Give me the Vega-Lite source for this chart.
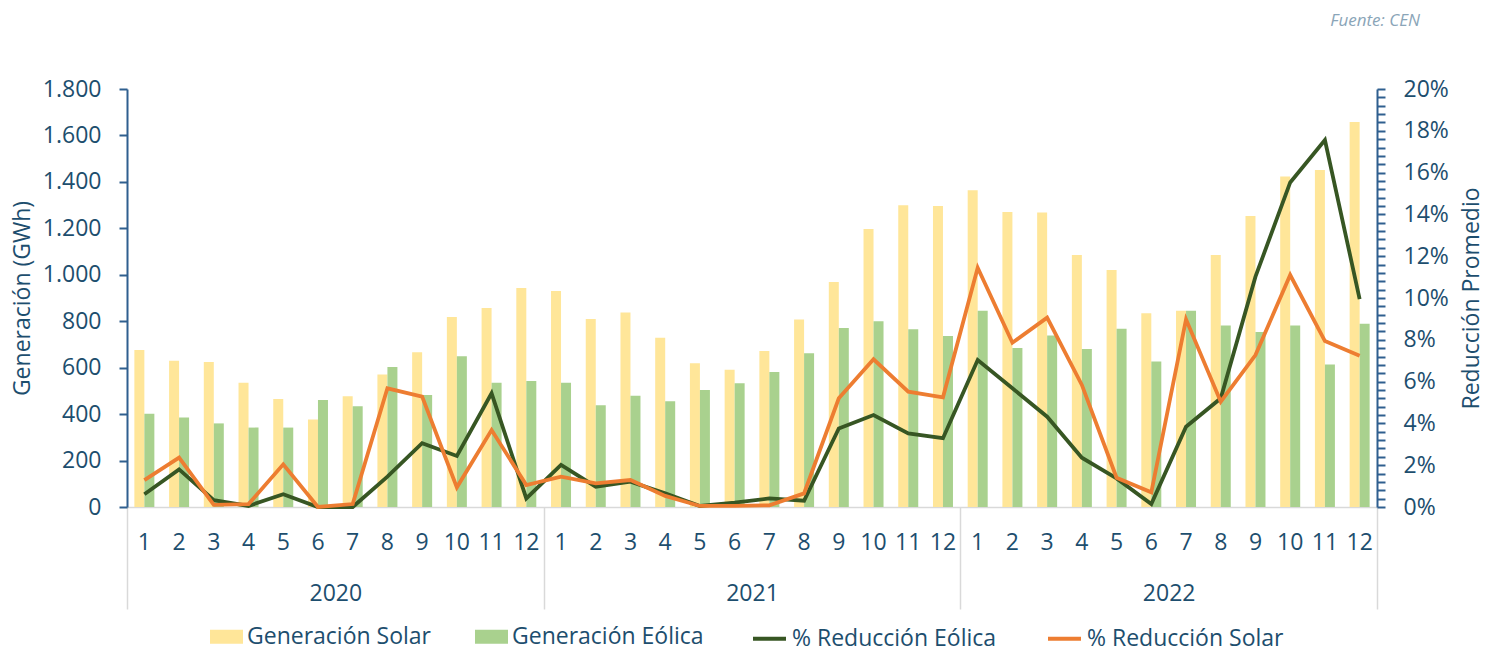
{
  "$schema": "https://vega.github.io/schema/vega-lite/v6.json",
  "width": 1250,
  "height": 418,
  "autosize": {"type": "none"},
  "padding": {"left": 127, "top": 89, "right": 109, "bottom": 144},
  "config": {
    "font": "Open Sans",
    "view": {"stroke": null},
    "locale": {"number": {"decimal": ",", "thousands": ".", "grouping": [3], "currency": ["$", ""]}},
    "axis": {"labelFont": "Open Sans", "labelFontSize": 23, "labelColor": "#1d4e6e", "titleFont": "Open Sans", "titleFontSize": 23, "titleColor": "#1d4e6e", "titleFontWeight": "normal", "grid": false},
    "legend": {"labelFont": "Open Sans", "labelFontSize": 23, "labelColor": "#1d4e6e", "labelLimit": 400, "labelOffset": 4, "columnPadding": 43, "direction": "horizontal", "orient": "none", "symbolSize": 1089}
  },
  "title": {"text": "Fuente: CEN", "anchor": "end", "frame": "group", "fontStyle": "italic", "fontWeight": "normal", "fontSize": 17, "color": "#8aa5b8", "offset": 48, "dx": 43},
  "data": {"values": [
    {"k": "2020-1", "solar": 676, "eolica": 402, "red_eol": 0.61, "red_sol": 1.29},
    {"k": "2020-2", "solar": 630, "eolica": 385, "red_eol": 1.80, "red_sol": 2.36},
    {"k": "2020-3", "solar": 624, "eolica": 360, "red_eol": 0.33, "red_sol": 0.10},
    {"k": "2020-4", "solar": 535, "eolica": 342, "red_eol": 0.05, "red_sol": 0.14},
    {"k": "2020-5", "solar": 465, "eolica": 342, "red_eol": 0.61, "red_sol": 2.04},
    {"k": "2020-6", "solar": 377, "eolica": 461, "red_eol": 0.00, "red_sol": 0.00},
    {"k": "2020-7", "solar": 477, "eolica": 434, "red_eol": 0.00, "red_sol": 0.14},
    {"k": "2020-8", "solar": 571, "eolica": 603, "red_eol": 1.45, "red_sol": 5.68},
    {"k": "2020-9", "solar": 666, "eolica": 482, "red_eol": 3.05, "red_sol": 5.28},
    {"k": "2020-10", "solar": 818, "eolica": 649, "red_eol": 2.44, "red_sol": 0.94},
    {"k": "2020-11", "solar": 857, "eolica": 535, "red_eol": 5.44, "red_sol": 3.68},
    {"k": "2020-12", "solar": 943, "eolica": 543, "red_eol": 0.41, "red_sol": 1.05},
    {"k": "2021-1", "solar": 930, "eolica": 535, "red_eol": 2.01, "red_sol": 1.45},
    {"k": "2021-2", "solar": 810, "eolica": 438, "red_eol": 0.97, "red_sol": 1.13},
    {"k": "2021-3", "solar": 838, "eolica": 479, "red_eol": 1.21, "red_sol": 1.29},
    {"k": "2021-4", "solar": 729, "eolica": 455, "red_eol": 0.65, "red_sol": 0.53},
    {"k": "2021-5", "solar": 619, "eolica": 504, "red_eol": 0.05, "red_sol": 0.05},
    {"k": "2021-6", "solar": 591, "eolica": 533, "red_eol": 0.21, "red_sol": 0.05},
    {"k": "2021-7", "solar": 672, "eolica": 581, "red_eol": 0.41, "red_sol": 0.08},
    {"k": "2021-8", "solar": 807, "eolica": 662, "red_eol": 0.30, "red_sol": 0.65},
    {"k": "2021-9", "solar": 969, "eolica": 771, "red_eol": 3.76, "red_sol": 5.20},
    {"k": "2021-10", "solar": 1197, "eolica": 800, "red_eol": 4.40, "red_sol": 7.07},
    {"k": "2021-11", "solar": 1299, "eolica": 765, "red_eol": 3.52, "red_sol": 5.52},
    {"k": "2021-12", "solar": 1296, "eolica": 736, "red_eol": 3.29, "red_sol": 5.25},
    {"k": "2022-1", "solar": 1364, "eolica": 845, "red_eol": 7.03, "red_sol": 11.45},
    {"k": "2022-2", "solar": 1270, "eolica": 685, "red_eol": 5.68, "red_sol": 7.86},
    {"k": "2022-3", "solar": 1268, "eolica": 739, "red_eol": 4.32, "red_sol": 9.06},
    {"k": "2022-4", "solar": 1085, "eolica": 680, "red_eol": 2.36, "red_sol": 5.84},
    {"k": "2022-5", "solar": 1021, "eolica": 768, "red_eol": 1.37, "red_sol": 1.40},
    {"k": "2022-6", "solar": 834, "eolica": 627, "red_eol": 0.14, "red_sol": 0.70},
    {"k": "2022-7", "solar": 845, "eolica": 845, "red_eol": 3.84, "red_sol": 8.98},
    {"k": "2022-8", "solar": 1085, "eolica": 782, "red_eol": 5.20, "red_sol": 5.04},
    {"k": "2022-9", "solar": 1253, "eolica": 754, "red_eol": 11.02, "red_sol": 7.27},
    {"k": "2022-10", "solar": 1423, "eolica": 782, "red_eol": 15.53, "red_sol": 11.10},
    {"k": "2022-11", "solar": 1451, "eolica": 614, "red_eol": 17.56, "red_sol": 7.94},
    {"k": "2022-12", "solar": 1658, "eolica": 789, "red_eol": 9.95, "red_sol": 7.24}
  ]},
  "layer": [
    {
      "transform": [{"fold": ["solar", "eolica"]}],
      "mark": {"type": "bar"},
      "encoding": {
        "x": {"field": "k", "type": "ordinal", "sort": null, "scale": {"paddingInner": 0, "paddingOuter": 0},
          "axis": {"orient": "bottom", "title": null, "labelExpr": "split(datum.value, '-')[1]", "labelAngle": 0,
            "ticks": false, "tickSize": 0, "labelPadding": 24, "labelBaseline": "top", "domainColor": "#d9d9d9", "domainWidth": 1.5, "labelOverlap": false}},
        "xOffset": {"field": "key", "type": "nominal", "sort": ["solar", "eolica"], "scale": {"paddingInner": 0, "paddingOuter": 0.736}},
        "y": {"field": "value", "type": "quantitative", "scale": {"domain": [0, 1800]},
          "axis": {"title": "Generación (GWh)", "values": [0, 200, 400, 600, 800, 1000, 1200, 1400, 1600, 1800], "format": ",.0f", "domainColor": "#2f5f8f", "domainWidth": 2, "tickColor": "#2f5f8f", "tickWidth": 2, "tickSize": 8, "labelPadding": 18, "titlePadding": 8, "labelOverlap": false}},
        "fill": {"field": "key", "type": "nominal",
          "scale": {"domain": ["solar", "eolica"], "range": ["#FFE699", "#A9D18E"]},
          "legend": {"title": null, "symbolType": "M-1,-0.43L1,-0.43L1,0.43L-1,0.43Z", "symbolStrokeWidth": 0, "legendX": 83, "legendY": 531,
            "labelExpr": "datum.value == 'solar' ? 'Generación Solar' : 'Generación Eólica'"}}
      }
    },
    {
      "transform": [{"fold": ["red_eol", "red_sol"]}],
      "mark": {"type": "line", "strokeWidth": 3.8},
      "encoding": {
        "x": {"field": "k", "type": "ordinal", "sort": null, "scale": {"paddingInner": 0, "paddingOuter": 0},
          "axis": {"orient": "bottom", "title": null, "labelExpr": "split(datum.value, '-')[1] == '6' ? split(datum.value, '-')[0] : ''", "labelAngle": 0,
            "tickBand": "extent", "labelOffset": 17.36, "tickSize": 102, "tickColor": "#d9d9d9", "tickWidth": 1.5,
            "tickOpacity": {"condition": {"test": "split(datum.value, '-')[1] == '12' || datum.extra", "value": 1}, "value": 0},
            "labelPadding": -27, "labelBaseline": "top", "domain": false, "labelOverlap": false}},
        "y": {"field": "value", "type": "quantitative", "scale": {"domain": [0, 20]},
          "axis": {"orient": "right", "title": "Reducción Promedio", "titleAngle": 270, "titleBaseline": "top",
            "values": [0, 0.4, 0.8, 1.2, 1.6, 2, 2.4, 2.8, 3.2, 3.6, 4, 4.4, 4.8, 5.2, 5.6, 6, 6.4, 6.8, 7.2, 7.6, 8, 8.4, 8.8, 9.2, 9.6, 10, 10.4, 10.8, 11.2, 11.6, 12, 12.4, 12.8, 13.2, 13.6, 14, 14.4, 14.8, 15.2, 15.6, 16, 16.4, 16.8, 17.2, 17.6, 18, 18.4, 18.8, 19.2, 19.6, 20],
            "labelExpr": "abs(datum.value / 2 - round(datum.value / 2)) < 0.01 ? round(datum.value) + '%' : ''",
            "domainColor": "#2f5f8f", "domainWidth": 2, "tickColor": "#2f5f8f", "tickWidth": 2, "tickSize": 8, "labelPadding": 18, "titlePadding": 12, "labelOverlap": false}},
        "stroke": {"field": "key", "type": "nominal",
          "scale": {"domain": ["red_eol", "red_sol"], "range": ["#375623", "#ED7D31"]},
          "legend": {"title": null, "symbolType": "stroke", "symbolStrokeWidth": 3.8, "legendX": 624, "legendY": 531,
            "labelExpr": "datum.value == 'red_eol' ? '% Reducción Eólica' : '% Reducción Solar'"}}
      }
    }
  ],
  "resolve": {"scale": {"y": "independent"}, "axis": {"x": "independent"}}
}
